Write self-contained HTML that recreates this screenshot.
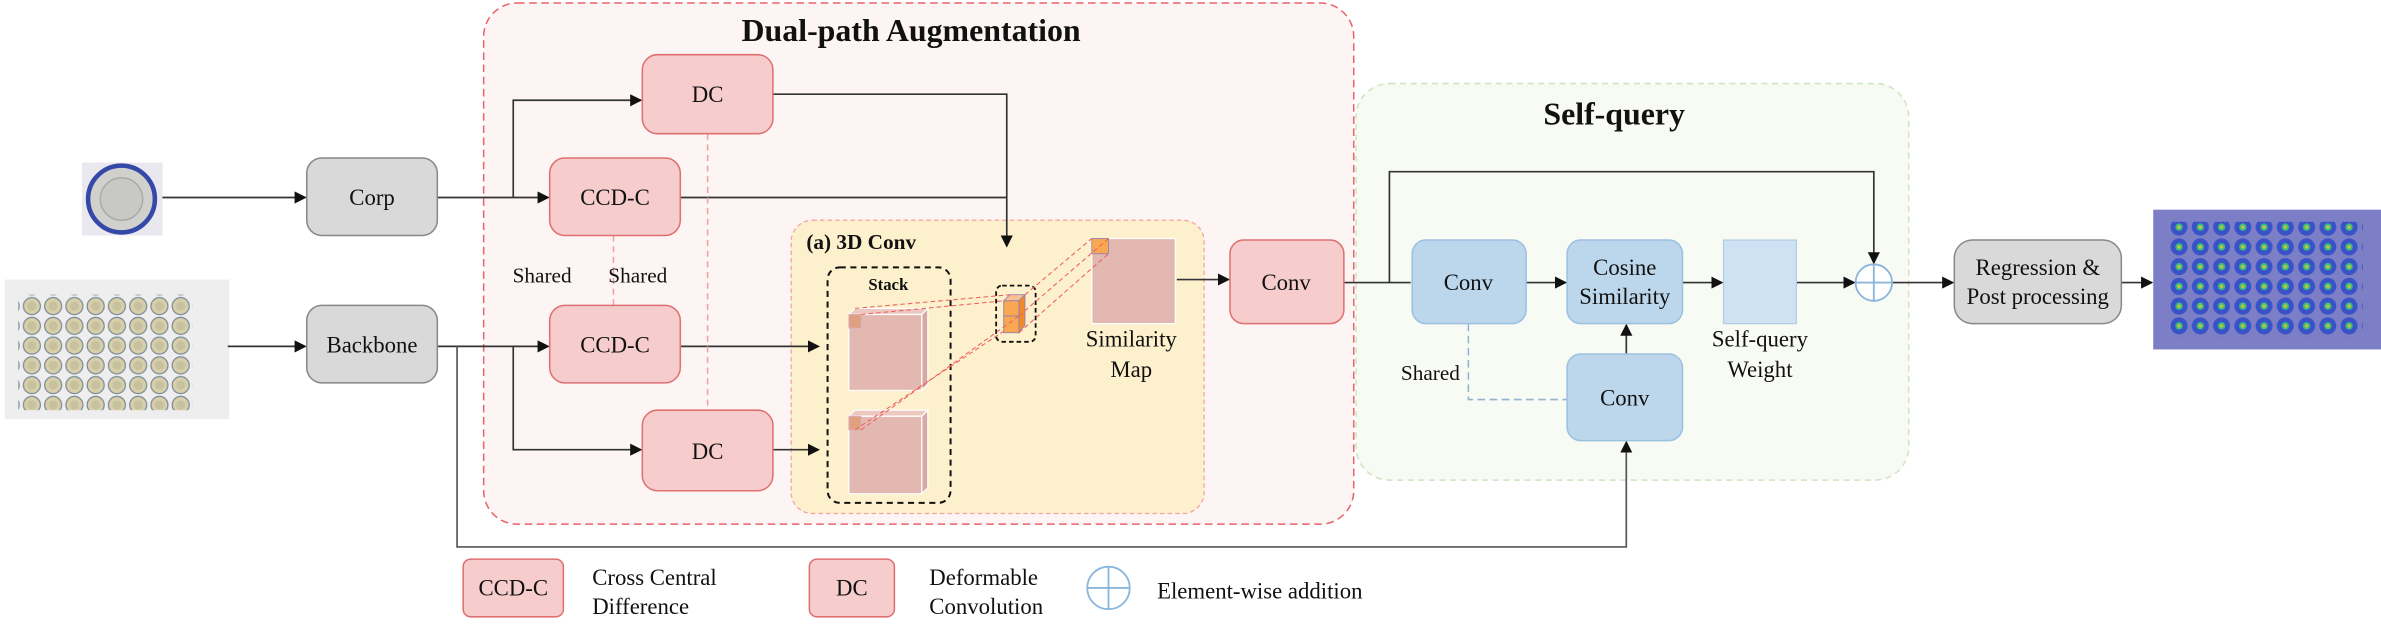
<!DOCTYPE html>
<html><head><meta charset="utf-8"><style>
html,body{margin:0;padding:0;background:#fff;}
svg{display:block;}
text{font-family:"Liberation Serif",serif;fill:#111;}
</style></head><body>
<svg width="2381" height="632" viewBox="0 0 1568 416" preserveAspectRatio="none" xmlns="http://www.w3.org/2000/svg">
<defs>
<marker id="ar" markerWidth="8" markerHeight="8" refX="7" refY="4" orient="auto" markerUnits="userSpaceOnUse">
<path d="M0,0 L8,4 L0,8 z" fill="#111"/></marker>
<pattern id="caps" width="14" height="13" patternUnits="userSpaceOnUse">
<rect width="14" height="13" fill="#eeeeee"/>
<circle cx="7" cy="6.5" r="5.6" fill="#d8cfa8" stroke="#7a8a9a" stroke-width="0.8"/>
<circle cx="7" cy="6.5" r="3" fill="#c6c2a0"/>
</pattern>
<pattern id="heat" width="14" height="13" patternUnits="userSpaceOnUse">
<rect width="14" height="13" fill="#7c7fc6"/>
<circle cx="7" cy="6.5" r="5.6" fill="#3a52c8"/>
<circle cx="7" cy="6.5" r="2.4" fill="#3ec07a"/>
<circle cx="7" cy="6.5" r="1" fill="#e0c030"/>
</pattern>
</defs>

<!-- Dual-path box -->
<rect x="318.5" y="2" width="573" height="343" rx="22" fill="#fcf5f4" stroke="#e8646a" stroke-width="1" stroke-dasharray="5,3"/>
<text x="600" y="27" font-size="21" font-weight="bold" text-anchor="middle">Dual-path Augmentation</text>

<!-- Self-query box -->
<rect x="893" y="55" width="364" height="261" rx="22" fill="#f8faf4" stroke="#cfe4c4" stroke-width="1" stroke-dasharray="4,3"/>
<text x="1063" y="82" font-size="21" font-weight="bold" text-anchor="middle">Self-query</text>

<!-- 3D conv box -->
<rect x="521" y="145" width="272" height="193" rx="14" fill="#fdf0cc" stroke="#f4a0a0" stroke-width="0.8" stroke-dasharray="3,2"/>
<text x="531" y="164" font-size="14" font-weight="bold">(a) 3D Conv</text>

<!-- images -->
<rect x="54" y="107" width="53" height="48" fill="#e8e8ee"/>
<circle cx="80" cy="131" r="22" fill="#d0d0cc" stroke="#3448a8" stroke-width="3"/>
<circle cx="80" cy="131" r="14" fill="#c8c8c4" stroke="#aaa" stroke-width="1"/>
<rect x="3" y="184" width="148" height="92" fill="#eeeeee"/>
<rect x="12" y="194" width="115" height="76" fill="url(#caps)"/>
<rect x="1418" y="138" width="150" height="92" fill="#7c7fc6"/>
<rect x="1428" y="146" width="128" height="76" fill="url(#heat)"/>

<!-- connectors -->
<g stroke="#333" stroke-width="1.1" fill="none">
<line x1="107" y1="130" x2="201" y2="130" marker-end="url(#ar)"/>
<line x1="150" y1="228" x2="201" y2="228" marker-end="url(#ar)"/>
<line x1="288" y1="130" x2="361" y2="130" marker-end="url(#ar)"/>
<polyline points="338,130 338,66 422,66" marker-end="url(#ar)"/>
<line x1="288" y1="228" x2="361" y2="228" marker-end="url(#ar)"/>
<polyline points="338,228 338,296 422,296" marker-end="url(#ar)"/>
<polyline points="301,228 301,360 1071,360 1071,291" marker-end="url(#ar)" stroke="#555"/>
<polyline points="509,62 663,62 663,162" marker-end="url(#ar)"/>
<line x1="448" y1="130" x2="663" y2="130"/>
<line x1="448" y1="228" x2="539" y2="228" marker-end="url(#ar)"/>
<line x1="509" y1="296" x2="539" y2="296" marker-end="url(#ar)"/>
<line x1="775" y1="184" x2="809" y2="184" marker-end="url(#ar)"/>
<line x1="885" y1="186" x2="929" y2="186"/>
<polyline points="915,186 915,113 1234,113 1234,173" marker-end="url(#ar)"/>
<line x1="1005" y1="186" x2="1031" y2="186" marker-end="url(#ar)"/>
<line x1="1108" y1="186" x2="1134" y2="186" marker-end="url(#ar)"/>
<line x1="1183" y1="186" x2="1221" y2="186" marker-end="url(#ar)"/>
<line x1="1246" y1="186" x2="1286" y2="186" marker-end="url(#ar)"/>
<line x1="1397" y1="186" x2="1417" y2="186" marker-end="url(#ar)"/>
<line x1="1071" y1="233" x2="1071" y2="214" marker-end="url(#ar)"/>
</g>
<!-- dashed shared -->
<line x1="404" y1="155" x2="404" y2="201" stroke="#f0a0a0" stroke-width="1" stroke-dasharray="4,3"/>
<line x1="466" y1="88" x2="466" y2="270" stroke="#f0a0a0" stroke-width="1" stroke-dasharray="4,3"/>
<polyline points="967,213 967,263 1032,263" fill="none" stroke="#90b4d0" stroke-width="1" stroke-dasharray="5,3"/>
<text x="357" y="186" font-size="14" text-anchor="middle">Shared</text>
<text x="420" y="186" font-size="14" text-anchor="middle">Shared</text>
<text x="942" y="250" font-size="14" text-anchor="middle">Shared</text>

<!-- boxes -->
<g font-size="15">
<rect x="202" y="104" width="86" height="51" rx="10" fill="#d9d9d9" stroke="#888"/>
<text x="245" y="135" text-anchor="middle">Corp</text>
<rect x="202" y="201" width="86" height="51" rx="10" fill="#d9d9d9" stroke="#888"/>
<text x="245" y="232" text-anchor="middle">Backbone</text>
<rect x="362" y="104" width="86" height="51" rx="10" fill="#f6cccc" stroke="#e07070"/>
<text x="405" y="135" text-anchor="middle">CCD-C</text>
<rect x="362" y="201" width="86" height="51" rx="10" fill="#f6cccc" stroke="#e07070"/>
<text x="405" y="232" text-anchor="middle">CCD-C</text>
<rect x="423" y="36" width="86" height="52" rx="10" fill="#f6cccc" stroke="#e07070"/>
<text x="466" y="67" text-anchor="middle">DC</text>
<rect x="423" y="270" width="86" height="53" rx="10" fill="#f6cccc" stroke="#e07070"/>
<text x="466" y="302" text-anchor="middle">DC</text>
<rect x="810" y="158" width="75" height="55" rx="9" fill="#f6cccc" stroke="#e07070"/>
<text x="847" y="191" text-anchor="middle">Conv</text>
<rect x="930" y="158" width="75" height="55" rx="9" fill="#bcd7ec" stroke="#9cc0e0"/>
<text x="967" y="191" text-anchor="middle">Conv</text>
<rect x="1032" y="158" width="76" height="55" rx="9" fill="#bcd7ec" stroke="#9cc0e0"/>
<text x="1070" y="181" text-anchor="middle">Cosine</text>
<text x="1070" y="200" text-anchor="middle">Similarity</text>
<rect x="1032" y="233" width="76" height="57" rx="9" fill="#bcd7ec" stroke="#9cc0e0"/>
<text x="1070" y="267" text-anchor="middle">Conv</text>
<rect x="1135" y="158" width="48" height="55" fill="#cfe2f3" stroke="#b0cce4" stroke-width="0.8"/>
<text x="1159" y="228" text-anchor="middle">Self-query</text>
<text x="1159" y="248" text-anchor="middle">Weight</text>
<rect x="1287" y="158" width="110" height="55" rx="12" fill="#d9d9d9" stroke="#888"/>
<text x="1342" y="181" text-anchor="middle">Regression &amp;</text>
<text x="1342" y="200" text-anchor="middle">Post processing</text>
</g>
<circle cx="1234" cy="186" r="12" fill="#fff" stroke="#8ab6dc" stroke-width="1.2"/>
<line x1="1222" y1="186" x2="1246" y2="186" stroke="#8ab6dc" stroke-width="1.2"/>
<line x1="1234" y1="174" x2="1234" y2="198" stroke="#8ab6dc" stroke-width="1.2"/>

<!-- stack -->
<rect x="545" y="176" width="81" height="155" rx="8" fill="none" stroke="#111" stroke-width="1.3" stroke-dasharray="4,3"/>
<text x="585" y="191" font-size="11" font-weight="bold" text-anchor="middle">Stack</text>
<g stroke="#fff" stroke-width="0.8">
<polygon points="559,207 563,203 611,203 607,207" fill="#ecc8c0"/>
<polygon points="607,207 611,203 611,253 607,257" fill="#d8a8a4"/>
<rect x="559" y="207" width="48" height="50" fill="#e2b8b0"/>
<polygon points="559,274 563,270 611,270 607,274" fill="#ecc8c0"/>
<polygon points="607,274 611,270 611,321 607,325" fill="#d8a8a4"/>
<rect x="559" y="274" width="48" height="51" fill="#e2b8b0"/>
</g>
<rect x="559" y="207" width="8" height="9" fill="#e0a080" stroke="#d8b0c0" stroke-width="0.6"/>
<rect x="559" y="274" width="8" height="9" fill="#e0a080" stroke="#d8b0c0" stroke-width="0.6"/>
<!-- small cubes -->
<rect x="656" y="188" width="26" height="37" rx="4" fill="none" stroke="#111" stroke-width="1.2" stroke-dasharray="3,2"/>
<polygon points="661,198 665,194 675,194 671,198" fill="#f8c090" stroke="#9a80b0" stroke-width="0.6"/>
<polygon points="671,198 675,194 675,214 671,219" fill="#f08a2a" stroke="#9a80b0" stroke-width="0.6"/>
<rect x="661" y="198" width="10" height="10" fill="#f8a850" stroke="#9a80b0" stroke-width="0.6"/>
<rect x="661" y="208" width="10" height="11" fill="#f8a850" stroke="#9a80b0" stroke-width="0.6"/>
<!-- similarity map -->
<rect x="719" y="157" width="55" height="56" fill="#e2b8b0" stroke="#fff" stroke-width="0.8"/>
<rect x="719" y="157" width="11" height="10" fill="#f8a850" stroke="#9a80b0" stroke-width="0.6"/>
<text x="745" y="228" font-size="15" text-anchor="middle">Similarity</text>
<text x="745" y="248" font-size="15" text-anchor="middle">Map</text>
<!-- red dashed projection lines -->
<g stroke="#f06060" stroke-width="0.7" stroke-dasharray="3,2" fill="none">
<line x1="563" y1="203" x2="665" y2="194"/>
<line x1="567" y1="207" x2="661" y2="198"/>
<line x1="567" y1="283" x2="671" y2="208"/>
<line x1="563" y1="283" x2="661" y2="218"/>
<line x1="675" y1="194" x2="719" y2="157"/>
<line x1="671" y1="208" x2="730" y2="157"/>
<line x1="671" y1="219" x2="730" y2="167"/>
</g>

<!-- legend -->
<g font-size="15">
<rect x="305" y="368" width="66" height="38" rx="5" fill="#f6cccc" stroke="#e07070"/>
<text x="338" y="392" text-anchor="middle">CCD-C</text>
<text x="390" y="385">Cross Central</text>
<text x="390" y="404">Difference</text>
<rect x="533" y="368" width="56" height="38" rx="5" fill="#f6cccc" stroke="#e07070"/>
<text x="561" y="392" text-anchor="middle">DC</text>
<text x="612" y="385">Deformable</text>
<text x="612" y="404">Convolution</text>
<text x="762" y="394">Element-wise addition</text>
</g>
<circle cx="730" cy="387" r="14" fill="#fff" stroke="#8ab6dc" stroke-width="1.2"/>
<line x1="716" y1="387" x2="744" y2="387" stroke="#8ab6dc" stroke-width="1.2"/>
<line x1="730" y1="373" x2="730" y2="401" stroke="#8ab6dc" stroke-width="1.2"/>
</svg>
</body></html>
